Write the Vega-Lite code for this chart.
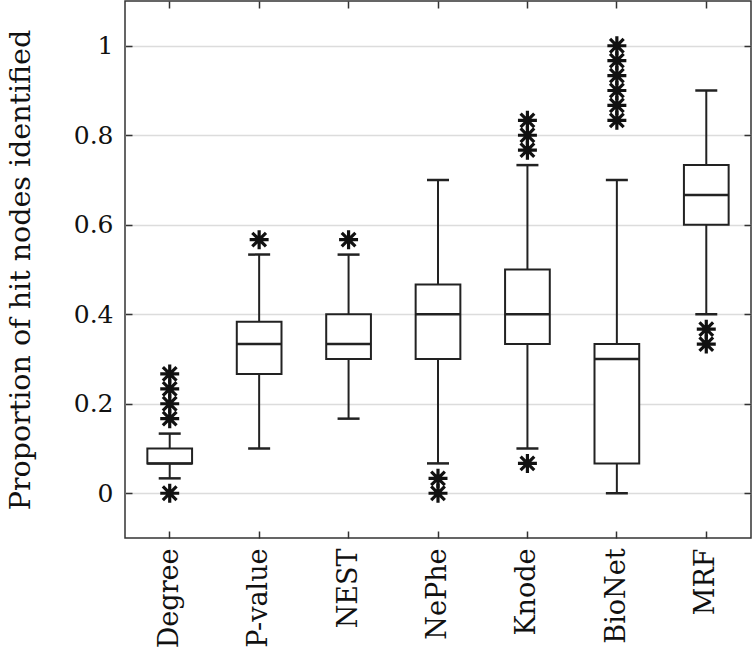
{
  "$schema": "https://vega.github.io/schema/vega-lite/v6.json",
  "width": 626,
  "height": 537,
  "autosize": {"type": "none"},
  "padding": {"left": 125, "top": 1, "right": 1, "bottom": 122},
  "background": "white",
  "config": {
    "font": "DejaVu Serif",
    "view": {"stroke": "#333333", "strokeWidth": 1.5},
    "axis": {
      "labelFont": "DejaVu Serif",
      "titleFont": "DejaVu Serif",
      "labelColor": "#111111",
      "titleColor": "#111111",
      "titleFontWeight": "normal",
      "labelFontSize": 25,
      "titleFontSize": 28.5,
      "domain": false,
      "tickColor": "#333333",
      "tickWidth": 1.5,
      "tickSize": -7,
      "gridColor": "#dcdcdc",
      "gridWidth": 1.5
    }
  },
  "datasets": {
    "boxes": [
      {"method": "Degree", "wlo": 0.0333, "q1": 0.0667, "med": 0.0667, "q3": 0.1, "whi": 0.1333},
      {"method": "P-value", "wlo": 0.1, "q1": 0.2667, "med": 0.3333, "q3": 0.3833, "whi": 0.5333},
      {"method": "NEST", "wlo": 0.1667, "q1": 0.3, "med": 0.3333, "q3": 0.4, "whi": 0.5333},
      {"method": "NePhe", "wlo": 0.0667, "q1": 0.3, "med": 0.4, "q3": 0.4667, "whi": 0.7},
      {"method": "Knode", "wlo": 0.1, "q1": 0.3333, "med": 0.4, "q3": 0.5, "whi": 0.7333},
      {"method": "BioNet", "wlo": 0.0, "q1": 0.0667, "med": 0.3, "q3": 0.3333, "whi": 0.7},
      {"method": "MRF", "wlo": 0.4, "q1": 0.6, "med": 0.6667, "q3": 0.7333, "whi": 0.9}
    ],
    "outliers": [
      {"method": "Degree", "value": 0.0},
      {"method": "Degree", "value": 0.1667},
      {"method": "Degree", "value": 0.2},
      {"method": "Degree", "value": 0.2333},
      {"method": "Degree", "value": 0.2667},
      {"method": "P-value", "value": 0.5667},
      {"method": "NEST", "value": 0.5667},
      {"method": "NePhe", "value": 0.0},
      {"method": "NePhe", "value": 0.0333},
      {"method": "Knode", "value": 0.0667},
      {"method": "Knode", "value": 0.7667},
      {"method": "Knode", "value": 0.8},
      {"method": "Knode", "value": 0.8333},
      {"method": "BioNet", "value": 0.8333},
      {"method": "BioNet", "value": 0.8667},
      {"method": "BioNet", "value": 0.9},
      {"method": "BioNet", "value": 0.9333},
      {"method": "BioNet", "value": 0.9667},
      {"method": "BioNet", "value": 1.0},
      {"method": "MRF", "value": 0.3333},
      {"method": "MRF", "value": 0.3667}
    ]
  },
  "resolve": {"axis": {"x": "independent", "y": "independent"}},
  "layer": [
    {
      "data": {"name": "boxes"},
      "mark": {"type": "rule", "color": "#222222", "strokeWidth": 2},
      "encoding": {
        "x": {"field": "method", "type": "nominal", "sort": ["Degree", "P-value", "NEST", "NePhe", "Knode", "BioNet", "MRF"],
              "scale": {"paddingInner": 0, "paddingOuter": 0},
              "axis": {"orient": "bottom", "title": null, "labelAngle": -90, "labelPadding": 17, "labelFontSize": 27, "grid": false}},
        "y": {"field": "wlo", "type": "quantitative", "scale": {"domain": [-0.1, 1.1], "nice": false, "zero": false},
              "axis": {"orient": "left", "values": [0, 0.2, 0.4, 0.6, 0.8, 1], "format": "~g", "title": "Proportion of hit nodes identified", "labelPadding": 19, "titlePadding": 38, "grid": true}},
        "y2": {"field": "q1"}
      }
    },
    {
      "data": {"name": "boxes"},
      "mark": {"type": "rule", "color": "#222222", "strokeWidth": 2},
      "encoding": {
        "x": {"field": "method", "type": "nominal", "sort": ["Degree", "P-value", "NEST", "NePhe", "Knode", "BioNet", "MRF"],
              "axis": {"orient": "top", "title": null, "labels": false, "grid": false}},
        "y": {"field": "q3", "type": "quantitative",
              "axis": {"orient": "right", "values": [0, 0.2, 0.4, 0.6, 0.8, 1], "title": null, "labels": false, "grid": false}},
        "y2": {"field": "whi"}
      }
    },
    {
      "data": {"name": "boxes"},
      "mark": {"type": "bar", "fill": "white", "stroke": "#222222", "strokeWidth": 2, "width": {"band": 0.5}},
      "encoding": {
        "x": {"field": "method", "type": "nominal", "sort": ["Degree", "P-value", "NEST", "NePhe", "Knode", "BioNet", "MRF"], "axis": null},
        "y": {"field": "q1", "type": "quantitative", "axis": null},
        "y2": {"field": "q3"}
      }
    },
    {
      "data": {"name": "boxes"},
      "mark": {"type": "tick", "color": "#222222", "size": 45, "thickness": 2.5, "opacity": 1},
      "encoding": {
        "x": {"field": "method", "type": "nominal", "sort": ["Degree", "P-value", "NEST", "NePhe", "Knode", "BioNet", "MRF"], "axis": null},
        "y": {"field": "med", "type": "quantitative", "axis": null}
      }
    },
    {
      "data": {"name": "boxes"},
      "mark": {"type": "tick", "color": "#222222", "size": 22, "thickness": 2.5, "opacity": 1},
      "encoding": {
        "x": {"field": "method", "type": "nominal", "sort": ["Degree", "P-value", "NEST", "NePhe", "Knode", "BioNet", "MRF"], "axis": null},
        "y": {"field": "wlo", "type": "quantitative", "axis": null}
      }
    },
    {
      "data": {"name": "boxes"},
      "mark": {"type": "tick", "color": "#222222", "size": 22, "thickness": 2.5, "opacity": 1},
      "encoding": {
        "x": {"field": "method", "type": "nominal", "sort": ["Degree", "P-value", "NEST", "NePhe", "Knode", "BioNet", "MRF"], "axis": null},
        "y": {"field": "whi", "type": "quantitative", "axis": null}
      }
    },
    {
      "data": {"name": "outliers"},
      "mark": {"type": "point", "shape": "M-1,0L1,0M0,-1L0,1M-0.72,-0.72L0.72,0.72M-0.72,0.72L0.72,-0.72", "filled": false, "stroke": "#111111", "strokeWidth": 3.2, "size": 360, "opacity": 1},
      "encoding": {
        "x": {"field": "method", "type": "nominal", "sort": ["Degree", "P-value", "NEST", "NePhe", "Knode", "BioNet", "MRF"], "axis": null},
        "y": {"field": "value", "type": "quantitative", "axis": null}
      }
    }
  ]
}
